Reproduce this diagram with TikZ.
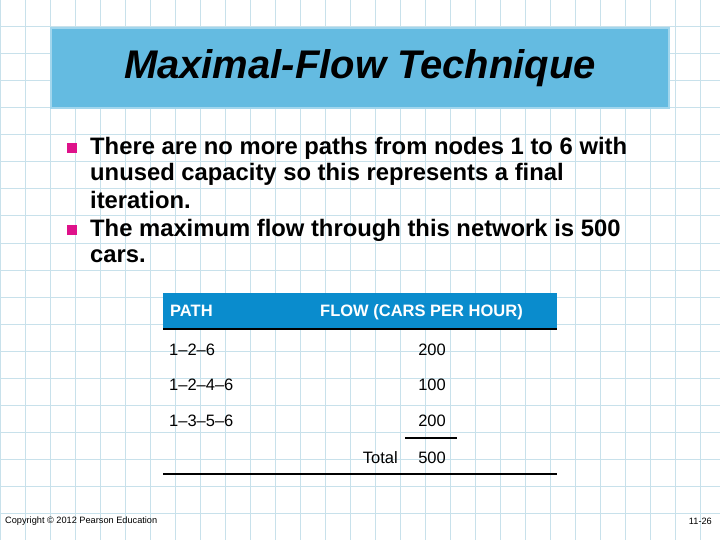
\documentclass[tikz,border=0pt]{standalone}
\usepackage{fontspec}
\setmainfont{Liberation Sans}
\begin{document}
\begin{tikzpicture}[x=1pt,y=-1pt,
  body/.style={anchor=west,font=\bfseries\fontsize{23.8}{27}\selectfont,inner sep=0},
  cell/.style={anchor=base west,font=\fontsize{16.5}{19}\selectfont,inner sep=0},
  bul/.style={fill=magenta!85!violet,minimum size=10pt,inner sep=0}]
\definecolor{gridc}{RGB}{200,225,235}
\definecolor{titlec}{RGB}{100,187,225}
\definecolor{headc}{RGB}{10,140,205}
\fill[white] (0,0) rectangle (720,540);
\useasboundingbox (0,0) rectangle (720,540);
\foreach \x in {0,25,...,720} \draw[gridc,line width=1] (\x,0)--(\x,540);
\foreach \y in {0,27,...,540} \draw[gridc,line width=1] (0,\y)--(720,\y);
\node[fill=titlec,draw=titlec!60!white,line width=2,minimum width=618,minimum height=80,inner sep=0] (title) at (360,68)
  {\bfseries\itshape\fontsize{40}{44}\selectfont Maximal-Flow Technique};
\node[bul] (b1) at (72,148) {};
\node[body] (t1) at (90,148) {There are no more paths from nodes 1 to 6 with};
\node[body] (t2) at (90,174) {unused capacity so this represents a final};
\node[body] (t3) at (90,200) {iteration.};
\node[bul] (b2) at (72,230) {};
\node[body] (t4) at (90,230) {The maximum flow through this network is 500};
\node[body] (t5) at (90,256) {cars.};
\fill[headc] (163,293) rectangle (557,328);
\draw[line width=2.5] (163,329)--(557,329);
\node[cell,text=white,font=\bfseries\fontsize{16.5}{19}\selectfont] (h1) at (170,316) {PATH};
\node[cell,text=white,font=\bfseries\fontsize{16.5}{19}\selectfont] (h2) at (320,316) {FLOW (CARS PER HOUR)};
\node[cell] (p1) at (169,355) {1–2–6};
\node[cell] (p2) at (169,390) {1–2–4–6};
\node[cell] (p3) at (169,426) {1–3–5–6};
\node[cell,anchor=base east] (f1) at (446,355) {200};
\node[cell,anchor=base east] (f2) at (446,390) {100};
\node[cell,anchor=base east] (f3) at (446,426) {200};
\draw[line width=1.5] (405,438)--(457,438);
\node[cell,anchor=base east] (tl) at (398,463) {Total};
\node[cell,anchor=base east] (tv) at (446,463) {500};
\draw[line width=1.5] (163,474)--(557,474);
\node[anchor=west,inner sep=0,font=\fontsize{9.2}{10}\selectfont] (c) at (5,521) {Copyright © 2012 Pearson Education};
\node[anchor=east,inner sep=0,font=\fontsize{9.2}{10}\selectfont] (pg) at (712,521) {11-26};
\end{tikzpicture}
\end{document}
